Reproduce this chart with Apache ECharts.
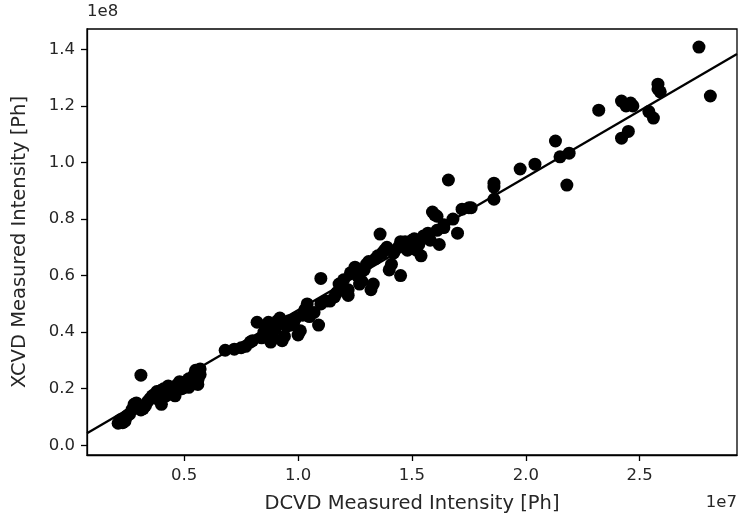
<!DOCTYPE html>
<html>
<head>
<meta charset="utf-8">
<script src="https://cdn.jsdelivr.net/npm/echarts@6/dist/echarts.min.js"></script>
<style>
html,body{margin:0;padding:0;background:#fff;}
#chart{width:738px;height:521px;}
</style>
</head>
<body>
<div id="chart"></div>
<script>
// x in units of 1e7 Ph, y in units of 1e8 Ph
var dcvd = [
0.21,0.23,0.24,0.22,0.25,0.26,0.27,0.28,0.29,0.31,0.32,0.31,0.33,0.34,0.35,0.36,0.37,0.38,0.39,0.40,0.40,0.41,0.42,0.43,0.44,0.45,0.46,0.47,0.48,0.49,0.50,0.51,0.52,0.53,0.54,0.55,0.55,0.56,0.56,0.57,0.57,0.55,0.52,0.46,0.38,
0.68,0.72,0.75,0.77,0.79,0.80,0.82,0.84,0.85,0.86,0.87,0.88,0.89,0.90,0.91,0.92,0.93,0.94,0.95,0.96,0.97,0.98,0.99,1.00,1.01,1.02,1.03,1.04,1.05,1.07,1.09,1.10,1.10,1.12,1.14,
1.16,1.17,1.18,1.20,1.22,1.22,1.23,1.25,1.26,1.27,1.28,1.29,1.30,1.31,1.32,1.33,1.34,1.35,1.36,1.37,1.38,1.39,1.40,1.41,1.42,1.44,1.45,1.45,1.47,1.48,1.49,1.50,1.51,1.52,1.53,1.54,1.55,1.57,1.58,
1.59,1.60,1.61,1.61,1.62,1.64,1.64,1.66,1.68,1.70,1.72,1.75,1.76,1.86,1.86,1.86,1.975,2.04,2.13,2.15,2.19,2.18,2.32,2.42,2.42,2.45,2.46,2.44,2.47,2.54,2.56,2.58,2.58,2.59,2.76,2.81
];
var xcvd = [
0.078,0.080,0.085,0.090,0.105,0.110,0.125,0.145,0.150,0.125,0.130,0.248,0.140,0.155,0.165,0.175,0.180,0.190,0.160,0.145,0.195,0.200,0.175,0.210,0.185,0.205,0.195,0.215,0.225,0.200,0.210,0.225,0.235,0.215,0.245,0.260,0.265,0.230,0.215,0.250,0.270,0.240,0.205,0.175,0.170,
0.336,0.340,0.345,0.350,0.365,0.370,0.435,0.380,0.400,0.420,0.435,0.365,0.380,0.410,0.440,0.450,0.370,0.385,0.420,0.440,0.425,0.430,0.450,0.390,0.405,0.460,0.480,0.500,0.455,0.470,0.425,0.590,0.500,0.510,0.510,
0.525,0.540,0.570,0.585,0.530,0.550,0.610,0.630,0.600,0.570,0.580,0.620,0.640,0.650,0.550,0.570,0.660,0.670,0.747,0.680,0.690,0.700,0.620,0.640,0.680,0.700,0.600,0.720,0.720,0.690,0.700,0.725,0.730,0.690,0.710,0.670,0.740,0.750,0.725,
0.825,0.815,0.810,0.760,0.710,0.780,0.770,0.938,0.800,0.750,0.835,0.840,0.840,0.927,0.913,0.870,0.977,0.994,1.076,1.020,1.033,0.920,1.185,1.217,1.086,1.110,1.210,1.200,1.200,1.180,1.157,1.277,1.260,1.250,1.408,1.235
];
var fitX = [0.0733, 2.927];
var fitY = [0.0425, 1.384];
var xTicks = [0.5, 1.0, 1.5, 2.0, 2.5];
var yTicks = [0.0, 0.2, 0.4, 0.6, 0.8, 1.0, 1.2, 1.4];
var xLabel = 'DCVD Measured Intensity [Ph]';
var yLabel = 'XCVD Measured Intensity [Ph]';
var xOffsetText = '1e7';
var yOffsetText = '1e8';

var points = dcvd.map(function (x, i) { return [x, xcvd[i]]; });
var fitLine = fitX.map(function (x, i) { return [x, fitY[i]]; });
var font = 'DejaVu Sans';
var tickColor = '#262626';

var chart = echarts.init(document.getElementById('chart'), null, {renderer: 'canvas'});
chart.setOption({
  animation: false,
  backgroundColor: '#ffffff',
  grid: {left: 87, right: 1, top: 29, bottom: 66, show: true, borderColor: '#000', borderWidth: 1.3, backgroundColor: 'transparent'},
  xAxis: {
    type: 'value', min: 0.0733, max: 2.927,
    name: xLabel, nameLocation: 'middle', nameGap: 39,
    nameTextStyle: {fontFamily: font, fontSize: 19.5, color: tickColor},
    axisLine: {show: true, onZero: false, lineStyle: {color: '#000', width: 1.3}},
    axisTick: {show: true, length: 6, inside: false, customValues: xTicks, lineStyle: {color: '#000', width: 1.3}},
    axisLabel: {customValues: xTicks, margin: 12, fontFamily: font, fontSize: 16.5, color: tickColor,
      formatter: function (v) { return v.toFixed(1); }},
    splitLine: {show: false}
  },
  yAxis: {
    type: 'value', min: -0.0343, max: 1.472,
    name: yLabel, nameLocation: 'middle', nameGap: 57,
    nameTextStyle: {fontFamily: font, fontSize: 19.5, color: tickColor},
    axisLine: {show: true, onZero: false, lineStyle: {color: '#000', width: 1.3}},
    axisTick: {show: true, length: 6, inside: false, customValues: yTicks, lineStyle: {color: '#000', width: 1.3}},
    axisLabel: {customValues: yTicks, margin: 12, fontFamily: font, fontSize: 16.5, color: tickColor,
      formatter: function (v) { return v.toFixed(1); }},
    splitLine: {show: false}
  },
  graphic: [
    {type: 'text', left: 87, top: 3, style: {text: yOffsetText, font: '16.5px "DejaVu Sans"', fill: tickColor}},
    {type: 'text', right: 1, top: 494, style: {text: xOffsetText, font: '16.5px "DejaVu Sans"', fill: tickColor}}
  ],
  series: [
    {type: 'scatter', data: points, symbol: 'circle', symbolSize: 13, itemStyle: {color: '#000', opacity: 1}, z: 2},
    {type: 'line', data: fitLine, showSymbol: false, symbol: 'none', lineStyle: {color: '#000', width: 2.3}, z: 3}
  ]
});
</script>
</body>
</html>
